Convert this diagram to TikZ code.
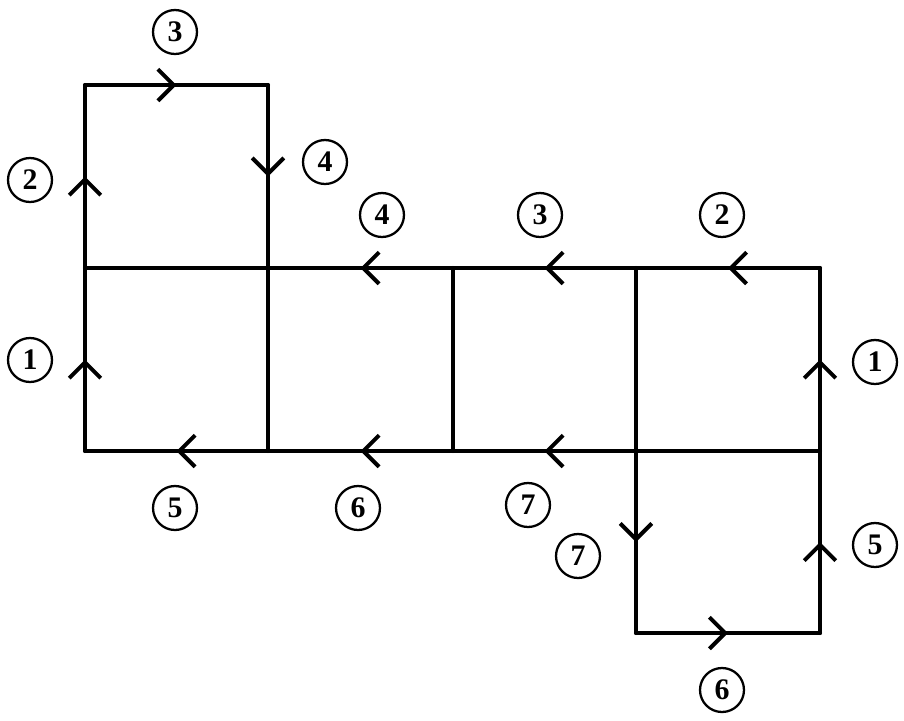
\documentclass[tikz,border=0pt]{standalone}
\usepackage{fontspec}
\setmainfont{Liberation Serif}
\usetikzlibrary{arrows.meta,decorations.markings}
\begin{document}
\begin{tikzpicture}
  [x=0.02cm,y=-0.02cm,line width=2.3pt,line cap=round,line join=round,
   every node/.style={circle,draw,line width=1.3pt,minimum size=0.88cm,inner sep=0pt,font=\fontsize{17}{17}\selectfont\bfseries}]
  \tikzset{midarrow/.style={postaction={decorate,decoration={markings,
      mark=at position 0.5 with {\arrow{Straight Barb[length=9pt,width=18pt,line width=2.3pt]}}}}}}
  \useasboundingbox (0,0) rectangle (904,721);
  % corners
  \coordinate (a1) at (85,85);   \coordinate (a2) at (268,85);
  \coordinate (b1) at (85,268);  \coordinate (b2) at (268,268);
  \coordinate (b3) at (453,268); \coordinate (b4) at (636,268);
  \coordinate (b5) at (820,268);
  \coordinate (c1) at (85,451);  \coordinate (c2) at (268,451);
  \coordinate (c3) at (453,451); \coordinate (c4) at (636,451);
  \coordinate (c5) at (820,451);
  \coordinate (d4) at (636,633); \coordinate (d5) at (820,633);

  % plain edges
  \draw (b1) -- (b2);
  \draw (b2) -- (c2);
  \draw (b3) -- (c3);
  \draw (b4) -- (c4);
  \draw (c4) -- (c5);

  % edges with arrows
  \foreach \source /\dest in {b1/a1,a1/a2,a2/b2,c1/b1,b5/b4,b4/b3,b3/b2,
      c5/b5,c2/c1,c3/c2,c4/c3,c4/d4,d4/d5,d5/c5}
    \draw[midarrow] (\source) -- (\dest);

  % labels
  \node (l3a) at (175,32)  {3};
  \node (l2a) at (30,180)  {2};
  \node (l4a) at (325,162) {4};
  \node (l4b) at (382,215) {4};
  \node (l3b) at (540,215) {3};
  \node (l2b) at (722,215) {2};
  \node (l1a) at (30,360)  {1};
  \node (l1b) at (875,362) {1};
  \node (l5a) at (175,508) {5};
  \node (l6a) at (358,508) {6};
  \node (l7a) at (528,505) {7};
  \node (l7b) at (578,556) {7};
  \node (l5b) at (875,545) {5};
  \node (l6b) at (722,690) {6};
\end{tikzpicture}
\end{document}
